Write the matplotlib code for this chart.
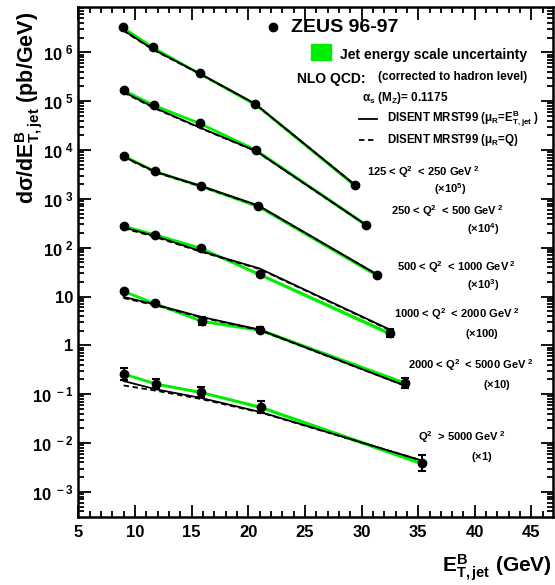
import numpy as np
import matplotlib
matplotlib.use("Agg")
import matplotlib.pyplot as plt

plt.rcParams['font.family'] = ['Liberation Sans', 'DejaVu Sans']
plt.rcParams['font.weight'] = 'bold'
plt.rcParams['mathtext.fontset'] = 'custom'
plt.rcParams['mathtext.rm'] = 'Liberation Sans:bold'
plt.rcParams['mathtext.it'] = 'Liberation Sans:bold'
plt.rcParams['mathtext.bf'] = 'Liberation Sans:bold'
plt.rcParams['mathtext.sf'] = 'Liberation Sans:bold'

# Q2 bins, scale factors used on the plot
scales = [1e5, 1e4, 1e3, 100, 10, 1]

# mean E_T per bin for each Q2 range
et1 = [8.95, 11.6, 15.7, 20.6, 29.4]
et2 = [9.0, 11.7, 15.7, 20.7, 30.4]
et3 = [9.0, 11.8, 15.8, 20.9, 31.4]
et4 = [9.0, 11.8, 15.8, 21.0, 32.5]
et5 = [9.0, 11.8, 15.9, 21.0, 33.8]
et6 = [9.0, 11.85, 15.8, 21.1, 35.3]

# ZEUS data (pb/GeV, unscaled)
xs1 = [32.5, 12.7, 3.7, 0.87, 0.019]
xs2 = [16.9, 8.3, 3.56, 1.0, 0.0293]
xs3 = [7.7, 3.66, 1.85, 0.708, 0.0273]
xs4 = [2.80, 1.86, 0.99, 0.286, 0.0177]
xs5 = [1.30, 0.72, 0.316, 0.211, 0.017]
xs6 = [0.264, 0.165, 0.111, 0.0547, 0.0039]

# relative statistical errors
err1 = [0.02, 0.02, 0.02, 0.03, 0.06]
err2 = [0.02, 0.02, 0.03, 0.04, 0.08]
err3 = [0.02, 0.02, 0.03, 0.04, 0.10]
err4 = [0.03, 0.04, 0.06, 0.08, 0.20]
err5 = [0.06, 0.07, 0.20, 0.12, 0.25]
err6 = [0.33, 0.25, 0.28, 0.35, 0.45]

# jet energy scale uncertainty (relative)
jes = [0.07, 0.07, 0.07, 0.08, 0.09]

# NLO DISENT MRST99, mu_R = E_T
nlo1 = [28.7, 11.5, 3.7, 0.89, 0.0195]
nlo2 = [15.5, 7.4, 2.9, 0.95, 0.0293]
nlo3 = [7.3, 3.6, 1.85, 0.73, 0.028]
nlo4 = [2.60, 1.72, 0.85, 0.375, 0.021]
nlo5 = [0.98, 0.685, 0.38, 0.21, 0.015]
nlo6 = [0.186, 0.126, 0.084, 0.043, 0.0044]

# NLO DISENT MRST99, mu_R = Q
nloq1 = [28.0, 11.3, 3.65, 0.88, 0.0195]
nloq2 = [15.0, 7.2, 2.85, 0.94, 0.029]
nloq3 = [7.1, 3.5, 1.8, 0.72, 0.028]
nloq4 = [2.50, 1.65, 0.83, 0.365, 0.0205]
nloq5 = [0.93, 0.66, 0.37, 0.205, 0.015]
nloq6 = [0.151, 0.118, 0.080, 0.042, 0.0044]

ets = [et1, et2, et3, et4, et5, et6]
data = [xs1, xs2, xs3, xs4, xs5, xs6]
errs = [err1, err2, err3, err4, err5, err6]
nlos = [nlo1, nlo2, nlo3, nlo4, nlo5, nlo6]
nloqs = [nloq1, nloq2, nloq3, nloq4, nloq5, nloq6]

W, H = 555, 585
fig = plt.figure(figsize=(W / 100, H / 100), dpi=100)
ax = fig.add_axes([78.3 / W, 1 - 516.7 / H, (553 - 78.3) / W, (516.7 - 6.7) / H])

green = '#00ee00'
for et, y, e, t, tq, s in zip(ets, data, errs, nlos, nloqs, scales):
    et = np.array(et)
    y = np.array(y) * s
    j = np.array(jes)
    ax.fill_between(et, y * (1 - j), y * (1 + j), color=green, lw=0, zorder=1)
    ax.plot(et, np.array(t) * s, color='black', lw=1.3, zorder=2)
    ax.plot(et, np.array(tq) * s, color='black', lw=1.3, ls=(0, (3, 2)), zorder=2)
    e = np.array(e)
    ax.errorbar(et, y, yerr=[y * e / (1 + e), y * e], fmt='o', color='black',
                ms=6, elinewidth=1.5, capsize=3, capthick=1.5, zorder=3)

ax.set_yscale('log')
ax.set_xlim(5, 46.9)
ax.set_ylim(3.1e-4, 8.6e6)

ax.set_xticks([5, 10, 15, 20, 25, 30, 35, 40, 45])
ax.set_xticklabels(['5', '10', '15', '20', '25', '30', '35', '40', '45'])
ax.set_xticks(np.arange(5, 47, 1), minor=True)
yt = [1e-3, 1e-2, 1e-1, 1, 10, 1e2, 1e3, 1e4, 1e5, 1e6]
ylab = [r'10$^{\ -3}$', r'10$^{\ -2}$', r'10$^{\ -1}$', '1', '10',
        r'10$^{\ 2}$', r'10$^{\ 3}$', r'10$^{\ 4}$', r'10$^{\ 5}$', r'10$^{\ 6}$']
ax.set_yticks(yt)
ax.set_yticklabels(ylab)
ax.yaxis.set_minor_locator(matplotlib.ticker.LogLocator(base=10, subs=np.arange(2, 10), numticks=30))
ax.yaxis.set_minor_formatter(matplotlib.ticker.NullFormatter())
ax.tick_params(which='both', direction='in', top=True, right=True, width=1.3)
ax.tick_params(which='major', length=9, labelsize=12)
ax.tick_params(axis='x', which='major', pad=6)
ax.tick_params(axis='y', which='major', pad=3.5)
ax.tick_params(which='minor', length=4.5)
for sp in ax.spines.values():
    sp.set_linewidth(1.8)

fig.text(29 / W, 1 - 108 / H, r'd$\sigma$/dE$^{\mathrm{B}}_{\mathrm{T,jet}}$ (pb/GeV)',
         rotation=90, ha='center', va='center', fontsize=15.5, fontweight='bold')
fig.text(552 / W, 1 - 568 / H, r'E$^{\mathrm{B}}_{\mathrm{T,jet}}$ (GeV)',
         ha='right', va='center', fontsize=15, fontweight='bold')


def px(x, y):
    return x / W, 1 - y / H


fig.lines.append(plt.Line2D([273 / W], [1 - 26.7 / H], marker='o', color='black', ms=6,
                            transform=fig.transFigure))
fig.text(*px(291, 27), 'ZEUS 96-97', fontsize=14, fontweight='bold', va='center')
fig.patches.append(plt.Rectangle(px(311, 60), 20 / W, 16 / H, color=green,
                                 transform=fig.transFigure))
fig.text(*px(340, 55), 'Jet energy scale uncertainty', fontsize=10, fontweight='bold', va='center')
fig.text(*px(297, 79), 'NLO QCD:', fontsize=10, fontweight='bold', va='center')
fig.text(*px(378, 77), '(corrected to hadron level)', fontsize=8.5, fontweight='bold', va='center')
fig.text(*px(362, 98), r'$\alpha_{\mathrm{s}}$ (M$_{\mathrm{Z}}$)= 0.1175', fontsize=8.5,
         fontweight='bold', va='center')
fig.lines.append(plt.Line2D([359 / W, 377 / W], [1 - 119 / H] * 2, color='black', lw=1.3,
                            transform=fig.transFigure))
fig.text(*px(387, 119), r'DISENT MRST99 ($\mu_{\mathrm{R}}$=E$^{\mathrm{B}}_{\mathrm{T,jet}}$ )',
         fontsize=8.3, fontweight='bold', va='center')
fig.lines.append(plt.Line2D([359 / W, 377 / W], [1 - 140 / H] * 2, color='black', lw=1.3,
                            ls=(0, (3, 2)), transform=fig.transFigure))
fig.text(*px(387, 140), r'DISENT MRST99 ($\mu_{\mathrm{R}}$=Q)',
         fontsize=8.3, fontweight='bold', va='center')

bins = [r'125 < Q$^{2}$  < 250 GeV$^{\ 2}$', r'250 < Q$^{2}$  < 500 GeV$^{\ 2}$',
        r'500 < Q$^{2}$  < 1000 GeV$^{\ 2}$', r'1000 < Q$^{2}$  < 2000 GeV$^{\ 2}$',
        r'2000 < Q$^{2}$  < 5000 GeV$^{\ 2}$', r'Q$^{2}$  > 5000 GeV$^{\ 2}$']
factors = [r'($\times$10$^{5}$)', r'($\times$10$^{4}$)', r'($\times$10$^{3}$)',
           r'($\times$100)', r'($\times$10)', r'($\times$1)']
bin_pos = [(367, 172), (391, 211), (397, 267), (394, 314), (408, 365), (418, 437)]
fac_pos = [(450, 189), (483, 229), (483, 285), (482, 334), (497, 385), (482, 457)]
for b, f, bp, fp in zip(bins, factors, bin_pos, fac_pos):
    fig.text(*px(*bp), b, fontsize=8.0, fontweight='bold', va='center')
    fig.text(*px(*fp), f, fontsize=8.0, fontweight='bold', va='center', ha='center')

fig.savefig('out.png', dpi=100)
